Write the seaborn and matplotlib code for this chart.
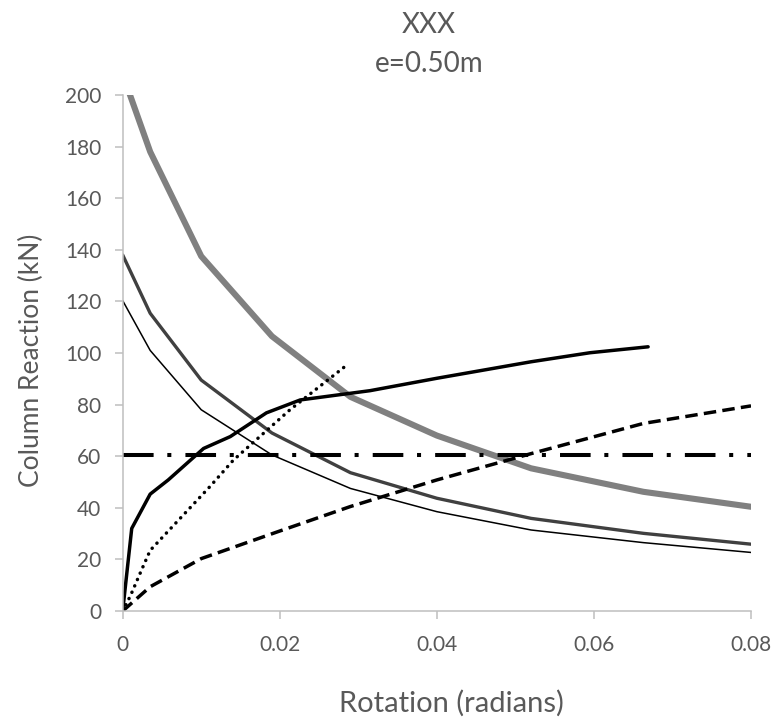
import matplotlib
matplotlib.use("Agg")
import matplotlib.pyplot as plt
import numpy as np
import pandas as pd
import seaborn as sns

# Column reaction vs. rotation curves, e = 0.50 m
rot_capacity = [0.0, 0.0035, 0.010, 0.019, 0.029, 0.040, 0.052, 0.0663, 0.080]
thick_grey = [208.0, 178.0, 137.5, 106.5, 83.0, 68.0, 55.3, 46.2, 40.4]
dark_grey = [138.0, 115.4, 89.5, 69.0, 53.6, 43.7, 35.9, 30.1, 25.9]
thin_black = [120.3, 101.0, 78.0, 60.5, 47.5, 38.5, 31.4, 26.5, 22.7]

rot_solid = [0.0, 0.00115, 0.0035, 0.0058, 0.0103, 0.0137, 0.0183, 0.0226,
             0.0315, 0.040, 0.052, 0.0595, 0.0669]
solid_black = [0.0, 32.0, 45.3, 50.8, 63.0, 67.6, 76.8, 81.8,
               85.4, 90.2, 96.6, 100.1, 102.4]

rot_dotted = [0.0, 0.001, 0.0024, 0.0035, 0.0111, 0.0141, 0.0213, 0.0284]
dotted_black = [0.0, 6.0, 15.9, 23.5, 48.2, 58.5, 78.0, 95.0]

rot_dashed = [0.0, 0.0035, 0.010, 0.020, 0.029, 0.040, 0.052, 0.0663, 0.080]
dashed_black = [0.0, 9.4, 20.3, 31.0, 40.5, 50.8, 61.0, 72.7, 79.5]

rot_limit = [0.0, 0.080]
limit_line = [60.6, 60.6]

x_ticks = [0, 0.02, 0.04, 0.06, 0.08]
x_tick_labels = ["0", "0.02", "0.04", "0.06", "0.08"]
y_ticks = list(range(0, 201, 20))

sns.set_theme(style="white")
plt.rcParams["font.family"] = ["Lato", "DejaVu Sans"]

text_color = "#595959"
axis_color = "#BFBFBF"

fig = plt.figure(figsize=(7.78, 7.19), dpi=100)
ax = fig.add_axes([0.1577, 0.1502, 0.8076, 0.7177])


def draw(xs, ys, **kw):
    df = pd.DataFrame({"rotation": xs, "reaction": ys})
    sns.lineplot(data=df, x="rotation", y="reaction", ax=ax, sort=False,
                 estimator=None, **kw)


draw(rot_capacity, thick_grey, color="#808080", linewidth=4.4,
     solid_joinstyle="round")
draw(rot_capacity, dark_grey, color="#404040", linewidth=2.4)
draw(rot_capacity, thin_black, color="#000000", linewidth=1.1)
draw(rot_solid, solid_black, color="#000000", linewidth=2.5)
draw(rot_dotted, dotted_black, color="#000000", linewidth=2.5,
     linestyle=(0, (0.05, 1.95)), dash_capstyle="round")
draw(rot_dashed, dashed_black, color="#000000", linewidth=2.5,
     linestyle=(0, (3.6, 1.8)))
draw(rot_limit, limit_line, color="#000000", linewidth=2.9,
     linestyle=(0, (7.6, 3.4, 1.0, 3.5)))

ax.set_xlim(0, 0.08)
ax.set_ylim(0, 200)
ax.set_xticks(x_ticks)
ax.set_xticklabels(x_tick_labels)
ax.set_yticks(y_ticks)
ax.set_xlabel("")
ax.set_ylabel("")

for side in ("top", "right"):
    ax.spines[side].set_visible(False)
for side in ("left", "bottom"):
    ax.spines[side].set_color(axis_color)
    ax.spines[side].set_linewidth(1.1)

ax.tick_params(axis="both", which="major", direction="out", length=5.5,
               width=1.1, color=axis_color, labelcolor=text_color,
               labelsize=15)
ax.tick_params(axis="y", pad=10)
ax.tick_params(axis="x", pad=12)
ax.tick_params(left=True, bottom=True)

fig.text(429 / 778, 1 - 25 / 719, "XXX", ha="center", va="center",
         fontsize=20, color=text_color)
fig.text(429 / 778, 1 - 64 / 719, "e=0.50m", ha="center", va="center",
         fontsize=20, color=text_color)
fig.text(31 / 778, 1 - 360 / 719, "Column Reaction (kN)", rotation=90,
         ha="center", va="center", fontsize=19, color=text_color)
fig.text(451 / 778, 1 - 703 / 719, "Rotation (radians)", ha="center",
         va="center", fontsize=21, color=text_color)

fig.savefig("out.png", dpi=100)
